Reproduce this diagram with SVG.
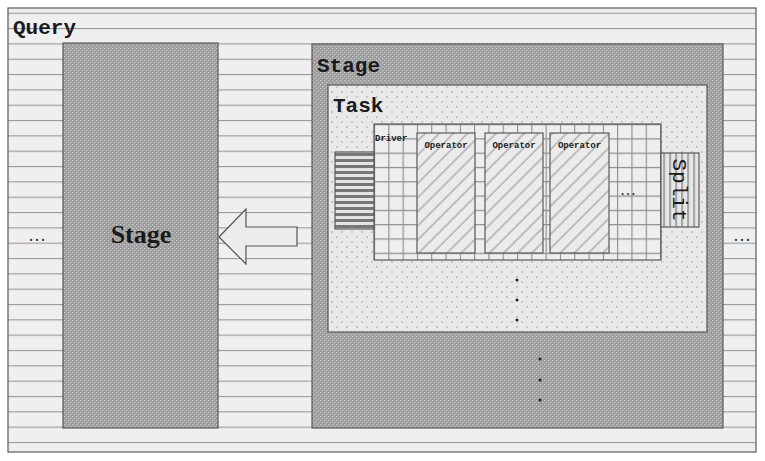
<svg xmlns="http://www.w3.org/2000/svg" width="765" height="461" viewBox="0 0 765 461">
<defs>
<pattern id="hlines" x="0" y="12.7" width="20" height="15.33" patternUnits="userSpaceOnUse">
<rect width="20" height="15.33" fill="#efefef"/>
<line x1="0" y1="0.5" x2="20" y2="0.5" stroke="#9a9a9a" stroke-width="1.2"/>
</pattern>
<pattern id="darkdots" width="4" height="4" patternUnits="userSpaceOnUse">
<rect width="4" height="4" fill="#9c9c9c"/>
<rect x="0" y="0" width="1.3" height="1.3" fill="#c8c8c8"/>
<rect x="2" y="2" width="1.3" height="1.3" fill="#c8c8c8"/>
</pattern>
<pattern id="lightdots" width="10" height="10" patternUnits="userSpaceOnUse">
<rect width="10" height="10" fill="#e9e9e9"/>
<circle cx="2" cy="2" r="0.7" fill="#8a8a8a"/>
<circle cx="7" cy="7" r="0.7" fill="#8a8a8a"/>
</pattern>
<pattern id="grid" x="374" y="124" width="14.3" height="14.3" patternUnits="userSpaceOnUse">
<rect width="14.3" height="14.3" fill="#eeeeee"/>
<path d="M0 0.5H14.3M0.5 0V14.3" stroke="#8c8c8c" stroke-width="1.2" fill="none"/>
</pattern>
<pattern id="hatch" width="10" height="10" patternUnits="userSpaceOnUse" patternTransform="rotate(-45)">
<rect width="10" height="10" fill="#ebebeb"/>
<line x1="0" y1="5" x2="10" y2="5" stroke="#8f8f8f" stroke-width="1"/>
</pattern>
<pattern id="hstripes" x="0" y="152" width="10" height="6" patternUnits="userSpaceOnUse">
<rect width="10" height="6" fill="#e4e4e4"/>
<rect y="1" width="10" height="3" fill="#777"/>
</pattern>
<pattern id="vstripes" x="661" y="0" width="6" height="10" patternUnits="userSpaceOnUse">
<rect width="6" height="10" fill="#e6e6e6"/>
<rect x="2" width="2.2" height="10" fill="#a8a8a8"/>
</pattern>
<style>
.big{font-family:"Liberation Mono",monospace;font-size:21px;font-weight:bold;fill:#1a1a1a}
.small{font-family:"Liberation Mono",monospace;font-size:9px;font-weight:bold;fill:#222}
.edge{stroke:#5a5a5a;stroke-width:1.2}
.dot{fill:#222}
</style>
</defs>

<g id="query">
<rect x="8" y="8" width="748" height="444" fill="url(#hlines)" class="edge"/>
<text x="13" y="34" class="big">Query</text>
<text x="28" y="241" font-family="Liberation Serif,serif" font-size="18" fill="#333">…</text>
<text x="733" y="241" font-family="Liberation Serif,serif" font-size="18" fill="#333">…</text>
</g>

<g id="stage-left">
<rect x="63" y="43" width="155" height="385" fill="url(#darkdots)" class="edge"/>
<text x="141" y="243" text-anchor="middle" font-family="Liberation Serif,serif" font-size="26" font-weight="bold" fill="#1a1a1a">Stage</text>
</g>

<g id="stage-right">
<rect x="312" y="44" width="411" height="384" fill="url(#darkdots)" class="edge"/>
<text x="317" y="72" class="big">Stage</text>
<circle cx="540" cy="359" r="1.5" class="dot"/>
<circle cx="540" cy="380" r="1.5" class="dot"/>
<circle cx="540" cy="400" r="1.5" class="dot"/>
</g>

<g id="task">
<rect x="328" y="85" width="379" height="247" fill="url(#lightdots)" class="edge"/>
<text x="333" y="112" class="big">Task</text>
<circle cx="517" cy="280" r="1.5" class="dot"/>
<circle cx="517" cy="300" r="1.5" class="dot"/>
<circle cx="517" cy="320" r="1.5" class="dot"/>
</g>

<g id="driver">
<rect x="374" y="124" width="287" height="136" fill="url(#grid)" class="edge"/>
<text x="375" y="141" class="small">Driver</text>
<text x="620" y="195" font-family="Liberation Serif,serif" font-size="16" fill="#333">…</text>
</g>

<g id="input">
<rect x="335" y="152" width="39" height="77" fill="url(#hstripes)" class="edge"/>
</g>

<g id="operator1">
<rect x="417" y="133" width="58" height="120" fill="url(#hatch)" class="edge"/>
<text x="446" y="148" text-anchor="middle" class="small">Operator</text>
</g>
<g id="operator2">
<rect x="485" y="133" width="58" height="120" fill="url(#hatch)" class="edge"/>
<text x="514" y="148" text-anchor="middle" class="small">Operator</text>
</g>
<g id="operator3">
<rect x="550" y="133" width="59" height="120" fill="url(#hatch)" class="edge"/>
<text x="579.5" y="148" text-anchor="middle" class="small">Operator</text>
</g>

<g id="split">
<rect x="661" y="153" width="38" height="74" fill="url(#vstripes)" class="edge"/>
<text transform="translate(673,190) rotate(90)" text-anchor="middle" class="big" font-weight="normal" style="font-weight:normal">Split</text>
</g>

<g id="connectors">
<path d="M219 237 L246 209 L246 227 L297 227 L297 246 L246 246 L246 264 Z" fill="#ececec" stroke="#555" stroke-width="1.2"/>
</g>
</svg>
